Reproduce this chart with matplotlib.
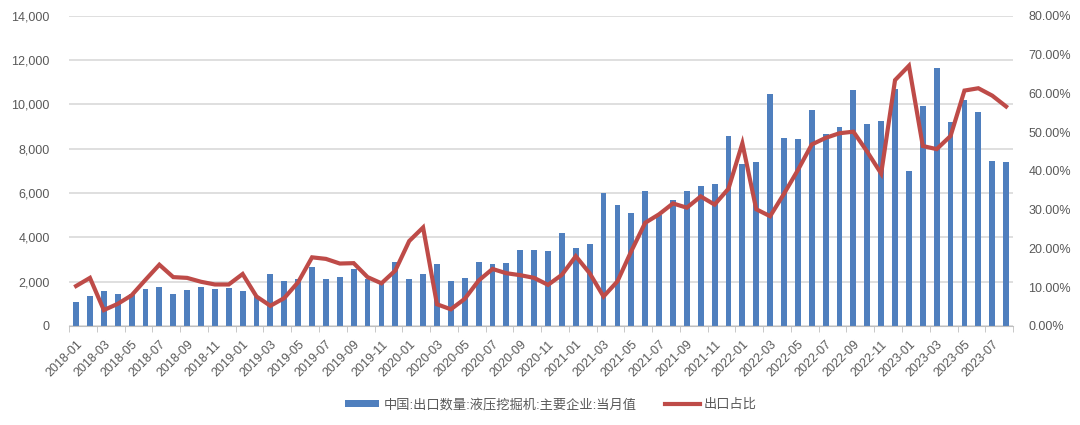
import numpy as np
import pandas as pd
import matplotlib
matplotlib.use('Agg')
import matplotlib.pyplot as plt
from matplotlib.ticker import FuncFormatter, FixedLocator

plt.rcParams['font.family'] = ['Liberation Sans', 'Noto Sans CJK SC', 'DejaVu Sans']

months = pd.date_range('2018-01-01', '2023-08-01', freq='MS').strftime('%Y-%m').tolist()

# 出口数量 (台)
export_qty = [
    1100, 1340, 1570, 1460, 1450, 1670, 1750, 1450, 1640, 1750, 1670, 1700,
    1570, 1370, 2340, 2010, 2100, 2640, 2100, 2230, 2580, 2100, 2020, 2870,
    2140, 2340, 2780, 2010, 2170, 2870, 2810, 2840, 3410, 3410, 3380, 4180,
    3540, 3710, 6000, 5450, 5110, 6110, 5000, 5670, 6110, 6310, 6400, 8580,
    7290, 7420, 10480, 8490, 8420, 9730, 8660, 8960, 10650, 9110, 9250, 10690,
    6980, 9930, 11640, 9220, 10180, 9650, 7450, 7420,
]

# 出口占比 (%)
export_share = [
    10.3, 12.4, 4.1, 5.7, 7.9, 11.9, 15.8, 12.6, 12.4, 11.4, 10.7, 10.7,
    13.4, 7.6, 5.2, 7.2, 11.3, 17.7, 17.3, 16.1, 16.2, 12.6, 11.0, 14.3,
    21.9, 25.4, 5.6, 4.3, 7.0, 11.7, 14.7, 13.6, 13.1, 12.4, 10.6, 13.2,
    18.0, 13.6, 7.6, 11.5, 19.3, 26.6, 28.8, 31.6, 30.5, 33.4, 31.3, 35.4,
    47.1, 30.1, 28.3, 34.1, 40.2, 46.8, 48.5, 49.7, 50.1, 44.9, 39.3, 63.4,
    67.1, 46.4, 45.6, 49.0, 60.7, 61.3, 59.4, 56.6,
]

bar_color = '#4F7FBE'
line_color = '#BE4B48'
text_color = '#595959'

x = np.arange(len(months))

fig = plt.figure(figsize=(10.8, 4.25), dpi=100)
ax = fig.add_axes([0.064, 0.233, 0.874, 0.73])
ax2 = ax.twinx()

bars = ax.bar(x, export_qty, width=0.42, color=bar_color, zorder=2,
              label='中国:出口数量:液压挖掘机:主要企业:当月值')
line, = ax2.plot(x, export_share, color=line_color, linewidth=3,
                 solid_joinstyle='miter', label='出口占比', zorder=3)

ax.set_xlim(-0.5, len(months) - 0.5)
ax.set_ylim(0, 14000)
ax.set_yticks(np.arange(0, 14001, 2000))
ax.yaxis.set_major_formatter(FuncFormatter(lambda v, p: f'{v:,.0f}'))
ax2.set_ylim(0, 80)
ax2.set_yticks(np.arange(0, 81, 10))
ax2.yaxis.set_major_formatter(FuncFormatter(lambda v, p: f'{v:.2f}%'))

ax.grid(axis='y', color='#D9D9D9', linewidth=1.2, zorder=0)
ax.set_axisbelow(True)

ax.set_xticks(x[::2])
ax.set_xticklabels(months[::2], rotation=45, ha='right', rotation_mode='anchor')
ax.xaxis.set_minor_locator(FixedLocator(np.arange(-0.5, len(months), 2)))
ax.tick_params(axis='x', which='major', length=0, pad=9, labelsize=9, labelcolor=text_color)
ax.tick_params(axis='x', which='minor', length=4, color='#BFBFBF')
ax.tick_params(axis='y', length=0, labelsize=9, labelcolor=text_color, pad=14)
ax2.tick_params(axis='y', length=0, labelsize=9, labelcolor=text_color, pad=11)

for a in (ax, ax2):
    for s in ('top', 'left', 'right'):
        a.spines[s].set_visible(False)
    a.spines['bottom'].set_color('#BFBFBF')
ax2.spines['bottom'].set_visible(False)

fig.legend(handles=[bars, line], loc='lower center', bbox_to_anchor=(0.51, 0.005),
           ncol=2, frameon=False, fontsize=9.5, labelcolor=text_color,
           handlelength=2.6, handleheight=0.4, columnspacing=2.2, handletextpad=0.3)

fig.savefig('out.png', dpi=100, facecolor='white')
